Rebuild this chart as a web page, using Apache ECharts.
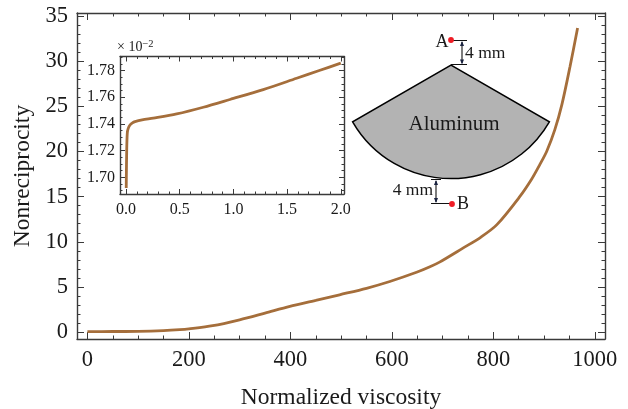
<!DOCTYPE html>
<html><head><meta charset="utf-8">
<style>html,body{margin:0;padding:0;background:#fff}#c{width:628px;height:409px}</style>
<script src="https://cdn.jsdelivr.net/npm/echarts@6/dist/echarts.min.js"></script>
</head><body><div id="c"></div>
<script>
const mainX = [0,50,100,150,182,200,247,300,350,399,450,497,550,596,650,675,694,740,775,807,852,875,892,905,921,935,951,966];
const mainY = [0.05,0.06,0.08,0.16,0.26,0.35,0.7,1.36,2.1,2.84,3.5,4.13,4.85,5.6,6.65,7.23,7.75,9.3,10.5,11.9,15.0,16.9,18.6,20.0,22.4,25.2,29.4,33.7];
const insetX = [0.002,0.003,0.0065,0.012,0.02,0.037,0.06,0.084,0.15,0.254,0.472,0.72,0.968,1.278,1.589,1.8,2.0];
const insetY = [1.692,1.70,1.7205,1.7332,1.7365,1.7392,1.7408,1.7417,1.743,1.7443,1.7475,1.7525,1.7583,1.7657,1.7742,1.78,1.7855];
const mainXMajor = [0,200,400,600,800,1000];
const mainXMinor = [50,100,150,250,300,350,450,500,550,650,700,750,850,900,950];
const mainYMajor = [0,5,10,15,20,25,30,35];
const mainYMinor = [1,2,3,4,6,7,8,9,11,12,13,14,16,17,18,19,21,22,23,24,26,27,28,29,31,32,33,34];
const insetXMajor = [0,0.5,1,1.5,2];
const insetXMinor = [0.1,0.2,0.3,0.4,0.6,0.7,0.8,0.9,1.1,1.2,1.3,1.4,1.6,1.7,1.8,1.9];
const insetYMajor = [1.70,1.72,1.74,1.76,1.78];
const insetYMinor = [1.69,1.695,1.705,1.71,1.715,1.725,1.73,1.735,1.745,1.75,1.755,1.765,1.77,1.775,1.785,1.79];

const SERIF = '"Liberation Serif","Times New Roman",serif';
const FRAME = '#3a3a3a', TEXT = '#1a1a1a', CURVE = '#a56e3b';

function axes(grid, pos, min, max, major, minor, opt) {
  const primary = pos === 'bottom' || pos === 'left';
  const common = {type:'value', gridIndex:grid, position:pos, min, max, scale:true,
    splitLine:{show:false}, minorTick:{show:false}, silent:true};
  const line = {show:true, onZero:false, lineStyle:{color:FRAME, width:opt.lw}};
  return [
    Object.assign({}, common, primary ? {
      name:opt.name||'', nameLocation:'middle', nameGap:opt.nameGap,
      nameTextStyle:{fontFamily:SERIF, fontSize:23.5, color:TEXT}
    } : {}, {
      axisLine:line,
      axisTick:{show:true, inside:true, length:opt.maj, customValues:major, lineStyle:{color:FRAME, width:1}},
      axisLabel:primary ? {show:true, customValues:major, margin:opt.margin, fontFamily:SERIF,
        fontSize:opt.fs, color:TEXT, hideOverlap:false,
        formatter:v => opt.dec ? v.toFixed(opt.dec) : String(v)} : {show:false}
    }),
    Object.assign({}, common, {
      axisLine:{show:false, onZero:false},
      axisTick:{show:true, inside:true, length:opt.min, customValues:minor, lineStyle:{color:FRAME, width:1}},
      axisLabel:{show:false}
    })
  ];
}
const mo = {lw:1.4, maj:7, min:3.5, fs:22.5, margin:10};
const io = {lw:1.4, maj:5, min:2.5, fs:16, margin:8};
const xAxis = [
  ...axes(0,'bottom',-20.5,1020,mainXMajor,mainXMinor,Object.assign({},mo,{name:'Normalized viscosity',nameGap:47})),
  ...axes(0,'top',-20.5,1020,mainXMajor,mainXMinor,mo),
  ...axes(1,'bottom',-0.056,2.03,insetXMajor,insetXMinor,Object.assign({},io,{dec:1})),
  ...axes(1,'top',-0.056,2.03,insetXMajor,insetXMinor,io)
];
const yAxis = [
  ...axes(0,'left',-0.77,35.35,mainYMajor,mainYMinor,Object.assign({},mo,{name:'Nonreciprocity',nameGap:41,margin:9})),
  ...axes(0,'right',-0.77,35.35,mainYMajor,mainYMinor,mo),
  ...axes(1,'left',1.6875,1.7905,insetYMajor,insetYMinor,Object.assign({},io,{dec:2,margin:5})),
  ...axes(1,'right',1.6875,1.7905,insetYMajor,insetYMinor,io)
];
const ln = (x1,y1,x2,y2,w) => ({type:'line', shape:{x1,y1,x2,y2}, style:{stroke:'#111', lineWidth:w||1}, z:20});
const txt = (x,y,text,fs,align) => ({type:'text', x, y, z:21,
  style:{text, fontFamily:SERIF, fontSize:fs, fill:TEXT, align:align||'center', verticalAlign:'middle'}});
const arrow = (x,y,dir) => ({type:'polygon', z:20,
  shape:{points:[[x,y],[x-2,y+dir*5],[x+2,y+dir*5]]}, style:{fill:'#1a2340'}});
const dot = (x,y) => ({type:'circle', z:22, shape:{cx:x,cy:y,r:2.9}, style:{fill:'#ee1c25'}});

const graphic = [
  {type:'sector', z:15, shape:{cx:451, cy:65, r:113.6, r0:0, startAngle:Math.PI/6, endAngle:Math.PI*5/6},
    style:{fill:'#b3b3b3', stroke:'#000', lineWidth:1.5}},
  txt(454,124,'Aluminum',21),
  txt(442,42,'A',18), dot(451,40), ln(451,40.5,467,40.5), ln(451,64.5,467,64.5),
  ln(462,42,462,63,1.1), arrow(462,41,1), arrow(462,64.5,-1), txt(465,53,'4 mm',17.5,'left'),
  txt(463,204,'B',18), dot(452,204), ln(431,203.5,450,203.5), ln(431,179.5,441,179.5),
  ln(436,181,436,202,1.1), arrow(436,180,1), arrow(436,203,-1), txt(433,190,'4 mm',17.5,'right'),
  {type:'text', x:117, y:47, z:21, style:{
    text:'× 10{s|−2}', fontFamily:SERIF, fontSize:14, fill:TEXT, align:'left', verticalAlign:'middle',
    rich:{s:{fontFamily:SERIF, fontSize:10.5, fill:TEXT, verticalAlign:'top', padding:[0,0,5,0]}}}}
];
const chart = echarts.init(document.getElementById('c'), null, {renderer:'canvas'});
chart.setOption({
  animation:false, backgroundColor:'#fff',
  grid:[
    {left:77, top:13, width:528, height:326, containLabel:false, outerBoundsMode:'none'},
    {left:120, top:56.5, width:224, height:137.5, containLabel:false, outerBoundsMode:'none', z:10}
  ],
  xAxis, yAxis, graphic,
  series:[
    {type:'line', xAxisIndex:0, yAxisIndex:0, data:mainX.map((x,i)=>[x,mainY[i]]), showSymbol:false,
     smooth:0.3, lineStyle:{color:CURVE, width:2.8}},
    {type:'line', xAxisIndex:4, yAxisIndex:4, data:insetX.map((x,i)=>[x,insetY[i]]), showSymbol:false,
     smooth:0.3, lineStyle:{color:CURVE, width:2.8}}
  ]
});
</script></body></html>
